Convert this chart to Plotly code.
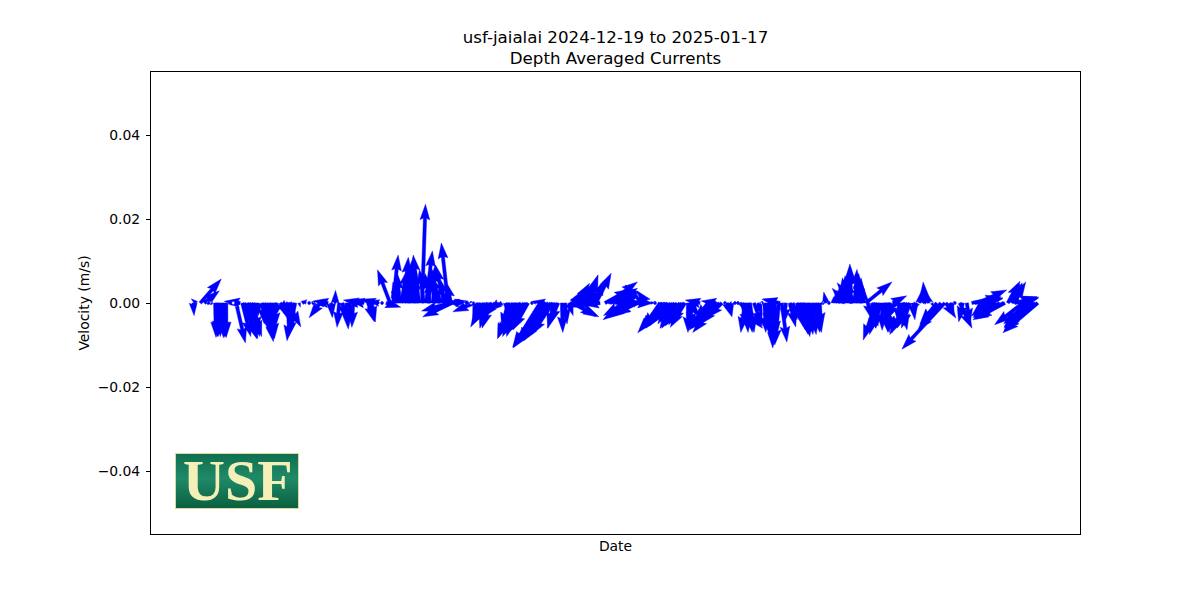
import base64
import math
import plotly.graph_objects as go

TITLE = "usf-jaialai 2024-12-19 to 2025-01-17<br>Depth Averaged Currents"
Y_TICKS = [-0.04, -0.02, 0.0, 0.02, 0.04]

# sample time (hours since start), east and north velocity (mm/s)
hours = [
 0,2.5,5.8,9.1,12.4,14.8,18.1,20.6,23.9,27.2,
 29.7,33,35.4,38.7,42,44.5,47.8,51.1,53.6,56.9,
 60.2,62.6,65.9,69.2,71.7,75,78.3,80.8,84,87.3,
 89.8,93.1,95.6,98.9,101.4,104.6,107.9,111.2,113.7,117,
 120.3,122.8,126.1,128.5,131.8,135.1,137.6,140.9,144.2,146.7,
 150,153.3,155.7,159,162.3,164.8,168.1,171.4,173.9,177.2,
 179.6,182.9,186.2,188.7,192,195.3,197.8,201.1,204.4,206.8,
 210.1,212.6,211.8,213.4,215.9,219.2,232,224,226,229,
 234,237.3,239.8,243.1,246.4,248.8,252.1,254.6,257.9,261.2,
 263.7,267,270.3,272.7,276,279.3,282.6,285.9,288.4,290,
 291.7,295,297.5,300.8,304,306.5,309.8,310.6,312.3,314,
 314.8,316.4,319.7,323,325.5,328.8,332.1,333.7,335.4,339.5,
 342,343.6,347.7,351,353.5,357.6,361.7,362.6,366.7,370,
 372.4,374.1,377.4,380.7,384.8,387.3,388.9,391.4,395.5,398.8,
 401.3,404.6,405.4,407.9,408.7,411.2,417.8,424.4,427.7,430.1,
 431,432.6,435.9,438.4,440,442.5,446.6,449.1,450.7,454.9,
 455.7,459,462.3,465.6,468.9,473,477.1,479.6,480.4,482.9,
 483.7,485.3,488.6,491.9,494.4,497.7,501,503.5,505.9,510.1,
 512.5,516.6,519.1,521.6,524.1,527.4,529.8,533.1,537.2,538.1,
 539.7,541.4,543,545.5,548,549.6,551.3,552.9,554.6,556.2,
 559.5,562.8,566.1,569.4,571.9,575.2,576.8,578.5,581.7,585,
 587.5,590.8,593.3,596.6,599,603.2,606.5,608.9,613,616.4,
 619.6,620.5,623.8,627.9,632,634.5,637.8,641.9,644.4,646.8,
 652.6,656.7,661.7,664.9,669.1,671.6,674.9,677.3,678.2,681.4,
 683.9,685.6,687.2,689.7,693,696.3,
]
east = [
 0.2,-1.2,5.0,3.6,0.5,0.3,0.2,0,0.3,0,
 0.8,0.5,2.2,-3.8,3,2.5,2.5,0.5,0,0.5,
 1.7,0.8,0.3,-1,2,1.2,3,-1,-1.5,0.3,
 1.2,-1,0.2,0.2,0.2,-2.6,-3,-3.5,0.3,0.1,
 -0.5,1,0.5,0.8,-0.3,-0.4,-4,-3.5,1.5,1,
 -3.5,-2.5,0.2,3.5,-3,1.2,-1,1.5,1,1.2,
 0.3,-0.5,-1.4,0.8,1.5,-1.2,0.5,-1.5,-2.5,-2,
 -1.6,-1.2,-6.8,-7,3,-3,-5.2,0.4,0.3,0.3,
 -0.5,-2,-3.2,-3,-3.5,-3,-2.5,-1.5,0,-3,
 -3.5,-2.5,-4,-3.5,-3.6,0.4,-1,-6.5,-4.5,-3,
 -8.1,-6.5,-1.5,-2,0.2,0.5,1,3,6.4,2,
 5,3,4,3,2.4,1.5,3.6,-6,-4,6,
 7,5.5,5.2,4,-3,-5.7,-5.5,4.8,-5.5,-4,
 -6,-2.5,1,0.3,-4,-6,-4.5,-3,-3,-3.6,
 -3.5,-3,-3.5,0,2.6,-0.5,-3.5,-3,-5.5,-4.5,
 -3.5,-6,-3.5,0.3,1.2,0.5,0.3,0.2,5.4,-1,
 0.5,1,2,1,0.3,0.5,0.2,0.3,-3,-1,
 -4.3,1.2,-0.5,1.4,1,1.5,1.5,1,0.7,1,
 1.2,0.3,0.2,-0.5,0.2,0.2,0.3,0.6,-3,-0.2,
 0.5,0,-3.5,0.5,0,0.3,-1,-0.2,6.2,1,
 1.5,-3,-1,1,1.3,-1.5,3.3,-2,0,1,
 -3.8,-2,0.5,-1,0.5,-0.4,-1,0.5,-4,-5.5,
 -10.2,2.4,1,0.3,2.9,-1,0.8,7,6.7,6.9,
 -3,-4,-5,-6,-7.6,2.9,2,5.7,1.5,4.5,
 -6.7,3,-5.5,-6,-7,-8.3,
]
north = [
 -3.0,1.0,5.7,2.9,0,0.1,-8.2,-8,-8.3,-8.2,
 -0.6,0.1,-9.5,0.4,-8.5,-8.5,-8,-7,-3,-5,
 -9.2,-8,-8.5,-4,-3,-2,-5.7,-9,-8,-1,
 0.8,0.3,0,0,0,-3.5,0.3,0.5,-3.5,3,
 -5.8,-4,-6.2,-4,-5.8,-1,0.7,0.6,-4.5,-4.5,
 0.9,0.5,0.2,-1,7.9,11.4,5,8,10.9,10.7,
 6.5,8.5,11.4,23.5,12.4,7,9,8.5,6.5,9,
 14.3,5,-1.9,-3.3,0.5,0.3,-2.1,0,0,0,
 -3,-5,-5.7,-4.5,-4,-3.5,-2,-1,-2,-8.5,
 -8.3,-8,-7.5,-6.5,-6.4,0,0.3,-10.5,-8,0.4,
 -10.7,-9,-6,-5,-7,-5,-3,-1,-3.3,3,
 -3.3,4.7,5,4.5,6.7,3,7.1,0,-0.5,3.3,
 5,3.1,1.4,2,0.8,-4,-3.5,0,-2.5,4.3,
 0.5,3,0.2,0,-6,-7.1,-6,-4,-6,-6,
 -5.5,-5,-5.8,-7,-3.3,-6,0.7,-4,-6.5,-5.5,
 0.5,-7,-3.5,-0.5,-3.3,-3,-0.2,0,-6,-7,
 -7,-7,-5.5,-3,0,-6,-10.7,-8,1,-10,
 0.9,-9.3,-5,-5.7,-4,-5.5,-7,-7.5,-8,-7.5,
 -7,-6,0,2.6,0.1,1.5,3,4,3.5,6.5,
 8.5,9.3,4.8,8,5,6,6.5,4,5,-4,
 -5.5,-8.8,-6,-7,-7,-5,1.7,-4,-5,-6.4,
 -7.5,-6,-4,-2,3,5,3,-1,-5,-6.5,
 -11,-3.6,-3,0,-6,-4.5,-5,1.5,1.2,3.1,
 -3,-3.5,-3,-3.5,-4,5.2,4.5,1.4,4.8,1.2,
 -5.2,1,-5,-5.5,-6,-7.1,
]
# further samples inside the dense clusters
extra_hours = [
 19.5,22,25.5,40.5,46,49.5,58.5,64,67.5,73.5,
 77,82.5,235.5,241.5,245,259.5,265.5,269,274.5,287,
 293,296.5,299,318,321.5,327,330.5,345.5,349.5,355.5,
 359.5,364.5,368.5,386,390,393.5,397,403,426,429,
 434,452.5,457.5,471,475,499.5,502.5,507.5,514.5,531.5,
 535,537,542,544.5,547,550.5,561,564.5,568,570.5,
 574,583.5,586.5,589,650,654,659,668,676,680,
 691,694.5,166.5,170,175.5,178.5,181,184.5,190,194,
 199.5,203,208,
]
extra_east = [
 0.1,0.1,0.2,2,2,1.5,1,0.5,0,1.5,
 1.5,-1,-1.5,-1.5,-2,-1.5,-3,-3,-3.5,-5.5,
 -7,-5,-2,3.5,1.5,2,2.5,6,5,-5,
 -5.5,-5,-6,-5,-4,-3,-3.5,-3.2,-4,-5,
 -4.5,1.5,1,0.3,0.3,1.5,1.2,1,1,0.3,
 0.5,-0.5,0,-2,0.5,0,0.5,-2,0,1,
 -1,0.8,-3,-2.5,5,-3.5,-4.5,-6.5,3,4.5,
 -6.5,-7.5,0.5,-0.5,0.5,-0.5,1,-0.8,-1,0.5,
 -1,-2,-1.5,
]
extra_north = [
 -8,-8,-8.2,-8,-7.5,-8,-6.5,-7,-6,-4,
 -3.5,-7,-4.5,-6,-6,-6,-8,-7.5,-6.5,-9.5,
 -9.5,-7.5,-6,4.5,3.5,3,5.5,3.5,2,-3,
 -3.5,-3,1,-6.5,-5.5,-5,-6,-5.2,-5,-6,
 -5,-6,-7,-7,-8.5,-6.5,-7.3,-7.5,-7,3.5,
 4.5,6,8.5,5.5,7,5.5,-6,-7.5,-6.5,-7,
 -5,-5.5,-7,-6,1,-3,-3,-3.8,5,1.5,
 -5.8,-6.5,6,7,8,9,7,7,8,6,
 7,5,6,
]
assert len(hours) == len(east) == len(north)
assert len(extra_hours) == len(extra_east) == len(extra_north)

# The page has an 8 px body margin, so the figure is laid out 8 px in.
PAGE_OFFSET = 8
WIDTH, HEIGHT = 1184, 584
LEFT, TOP = 151 - PAGE_OFFSET, 72 - PAGE_OFFSET
PLOT_W, PLOT_H = 929, 462
RIGHT = WIDTH - LEFT - PLOT_W
BOTTOM = HEIGHT - TOP - PLOT_H
Y_RANGE = (-0.055, 0.055)
SPAN_HOURS = 696.3
MARGIN_HOURS = SPAN_HOURS * 0.05
X_LO_H = -MARGIN_HOURS
X_HI_H = SPAN_HOURS + MARGIN_HOURS
EPOCH_MS = 1734566400000  # 2024-12-19 00:00 UTC
HOUR_MS = 3600000.0
MS_PER_PX = (X_HI_H - X_LO_H) * HOUR_MS / PLOT_W
VAL_PER_PX = (Y_RANGE[1] - Y_RANGE[0]) / PLOT_H
PX_PER_MMS = 1e-3 / VAL_PER_PX

SHAFT, HEAD_W, HEAD_L, HEAD_AX = 3.3, 9.8, 15.5, 14.0


def arrow_outline(u_mm, v_mm):
    """Arrow outline in pixel offsets from its tail, like a quiver glyph."""
    dx, dy = u_mm * PX_PER_MMS, v_mm * PX_PER_MMS
    length = math.hypot(dx, dy)
    if length < SHAFT:
        r = SHAFT / 2
        return [(r * math.cos(k * math.pi / 3), r * math.sin(k * math.pi / 3)) for k in range(6)]
    s = min(1.0, length / HEAD_L)
    w, hw, hl, ha = SHAFT * s / 2, HEAD_W * s / 2, HEAD_L * s, HEAD_AX * s
    local = [(0, w), (length - ha, w), (length - hl, hw), (length, 0),
             (length - hl, -hw), (length - ha, -w), (0, -w)]
    ca, sa = dx / length, dy / length
    return [(a * ca - b * sa, a * sa + b * ca) for a, b in local]


xs, ys = [], []
for h, u, v in zip(hours + extra_hours, east + extra_east, north + extra_north):
    x0 = EPOCH_MS + h * HOUR_MS
    pts = arrow_outline(u, v)
    for px, py in pts + pts[:1]:
        xs.append(x0 + px * MS_PER_PX)
        ys.append(py * VAL_PER_PX)
    xs.append(None)
    ys.append(None)

fig = go.Figure(go.Scatter(
    x=xs, y=ys, mode="lines", fill="toself", fillcolor="#0000ff",
    line=dict(color="#0000ff", width=0.4), hoverinfo="skip", showlegend=False,
))

logo_svg = (
    '<svg xmlns="http://www.w3.org/2000/svg" width="124" height="56">'
    '<defs><linearGradient id="g" x1="0" y1="0" x2="0" y2="1">'
    '<stop offset="0" stop-color="#0f6f4e"/><stop offset="0.45" stop-color="#1f8a68"/>'
    '<stop offset="1" stop-color="#0a5f3e"/></linearGradient></defs>'
    '<rect x="0.5" y="0.5" width="123" height="55" fill="url(#g)" stroke="#dcd9a0"/></svg>'
)
logo_uri = "data:image/svg+xml;base64," + base64.b64encode(logo_svg.encode()).decode()


def px_x(p):
    return (p - 151) / PLOT_W


def px_y(p):
    return 1 - (p - 72) / PLOT_H


fig.add_layout_image(dict(
    source=logo_uri, xref="paper", yref="paper", x=px_x(175), y=px_y(453),
    sizex=124 / PLOT_W, sizey=56 / PLOT_H, sizing="stretch",
    xanchor="left", yanchor="top", layer="above",
))
fig.add_annotation(
    text="<b>USF</b>", xref="paper", yref="paper", x=px_x(237.5), y=px_y(480),
    showarrow=False, xanchor="center", yanchor="middle",
    font=dict(family="Liberation Serif", size=58, color="#f5efb8"),
)

FONT = "DejaVu Sans"
SIZE = 13.9
fig.update_layout(
    width=WIDTH, height=HEIGHT, autosize=False,
    margin=dict(l=LEFT, r=RIGHT, t=TOP, b=BOTTOM, pad=0),
    paper_bgcolor="white", plot_bgcolor="white",
    font=dict(family=FONT, size=SIZE, color="black"),
    title=dict(text=TITLE, x=(LEFT + PLOT_W / 2) / WIDTH, xanchor="center",
               y=1 - 34.5 / HEIGHT, yanchor="middle", font=dict(family=FONT, size=16.67, color="black")),
    xaxis=dict(type="date", range=[EPOCH_MS + X_LO_H * HOUR_MS, EPOCH_MS + X_HI_H * HOUR_MS],
               showticklabels=False, ticks="", showgrid=False, zeroline=False,
               showline=True, mirror=True, linecolor="black", linewidth=1,
               title=dict(text="Date", standoff=7, font=dict(size=SIZE))),
    yaxis=dict(range=list(Y_RANGE), tickvals=Y_TICKS, tickformat=".2f", ticks="outside",
               ticklen=4, tickcolor="black", tickwidth=1, ticklabelstandoff=3,
               showgrid=False, zeroline=False,
               showline=True, mirror=True, linecolor="black", linewidth=1,
               title=dict(text="Velocity (m/s)", standoff=4, font=dict(size=SIZE))),
)
fig.write_html("out.html")
